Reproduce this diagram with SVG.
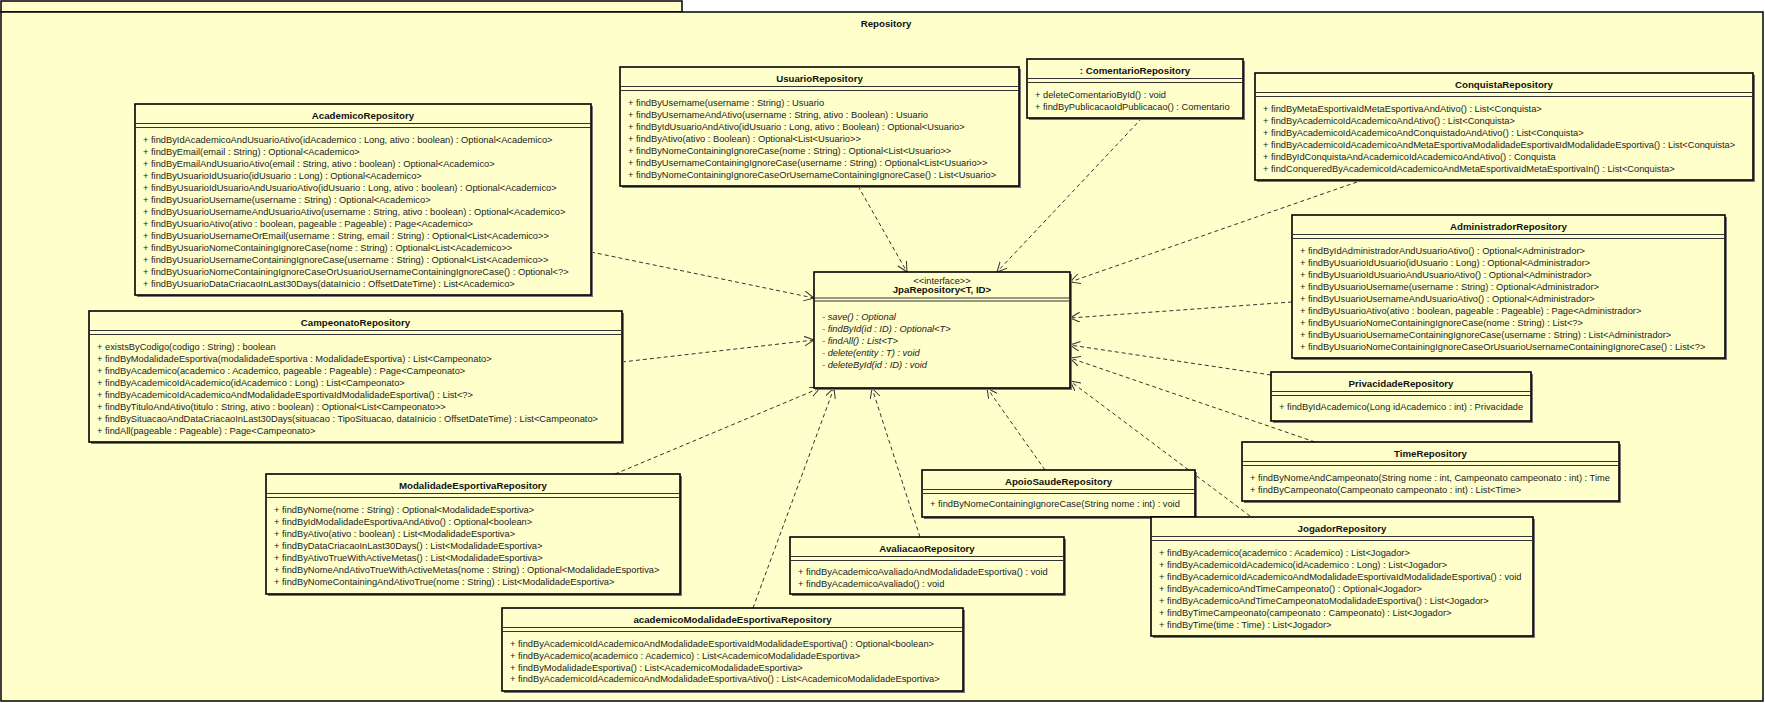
<svg xmlns="http://www.w3.org/2000/svg" width="1765" height="703" viewBox="0 0 1765 703">
<style>
.pkg{fill:#FFFFCC;stroke:#000;stroke-width:1.5}
.box{fill:#FFFFCC;stroke:#000;stroke-width:1.6}
.sh{fill:#777}
.sep{stroke:#333;stroke-width:1}
.t{font-family:"Liberation Sans",Arial,sans-serif;font-size:9.7px;font-weight:bold;fill:#111;text-anchor:middle}
.o{font-family:"Liberation Sans",Arial,sans-serif;font-size:9.3px;fill:#222}
.it{font-style:italic}
.c{text-anchor:middle}
.dep{fill:none;stroke:#333;stroke-width:1;stroke-dasharray:4 3;marker-end:url(#arr)}
</style>
<defs>
<marker id="arr" markerWidth="12" markerHeight="12" refX="10" refY="5" orient="auto" markerUnits="userSpaceOnUse">
<path d="M0,0 L10,5 L0,10" fill="none" stroke="#333" stroke-width="1"/>
</marker>
</defs>
<rect width="1765" height="703" fill="#fff"/>
<g id="package">
<rect class="pkg" x="1" y="1" width="681" height="11"/>
<rect class="pkg" x="1" y="12" width="1762" height="689"/>
<text class="t" x="886" y="27">Repository</text>
</g>
<g id="connectors">
<line class="dep" x1="591" y1="252" x2="814" y2="298"/>
<line class="dep" x1="858" y1="186" x2="907" y2="272"/>
<line class="dep" x1="1142" y1="118" x2="997" y2="272"/>
<line class="dep" x1="1357" y1="182" x2="1070" y2="282"/>
<line class="dep" x1="1292" y1="302" x2="1070" y2="318"/>
<line class="dep" x1="1271" y1="375" x2="1070" y2="345"/>
<line class="dep" x1="1315" y1="442" x2="1070" y2="358"/>
<line class="dep" x1="1250" y1="516" x2="1070" y2="381"/>
<line class="dep" x1="1045" y1="470" x2="987" y2="388"/>
<line class="dep" x1="920" y1="537" x2="872" y2="388"/>
<line class="dep" x1="753" y1="608" x2="834" y2="388"/>
<line class="dep" x1="615" y1="474" x2="820" y2="388"/>
<line class="dep" x1="622" y1="362" x2="814" y2="340"/>
</g>
<g id="JpaRepository" transform="translate(814,272)">
<rect class="sh" x="2" y="2" width="256" height="116"/>
<rect class="box" width="256" height="116"/>
<text class="o c" x="128" y="11.5">&lt;&lt;interface&gt;&gt;</text>
<text class="t" x="128" y="21">JpaRepository&lt;T, ID&gt;</text>
<line class="sep" x1="0" y1="26" x2="256" y2="26"/><line class="sep" x1="0" y1="29" x2="256" y2="29"/>
<text class="o it" x="8" y="48">- save() : Optional</text>
<text class="o it" x="8" y="60">- findById(id : ID) : Optional&lt;T&gt;</text>
<text class="o it" x="8" y="72">- findAll() : List&lt;T&gt;</text>
<text class="o it" x="8" y="84">- delete(entity : T) : void</text>
<text class="o it" x="8" y="96">- deleteById(id : ID) : void</text>
</g>
<g id="AcademicoRepository" transform="translate(135,104)">
<rect class="sh" x="2" y="2" width="456" height="191"/>
<rect class="box" width="456" height="191"/>
<text class="t" x="228" y="14.5">AcademicoRepository</text>
<line class="sep" x1="0" y1="19.5" x2="456" y2="19.5"/><line class="sep" x1="0" y1="23.5" x2="456" y2="23.5"/>
<text class="o" x="8" y="39.4">+ findByIdAcademicoAndUsuarioAtivo(idAcademico : Long, ativo : boolean) : Optional&lt;Academico&gt;</text>
<text class="o" x="8" y="51.4">+ findByEmail(email : String) : Optional&lt;Academico&gt;</text>
<text class="o" x="8" y="63.4">+ findByEmailAndUsuarioAtivo(email : String, ativo : boolean) : Optional&lt;Academico&gt;</text>
<text class="o" x="8" y="75.4">+ findByUsuarioIdUsuario(idUsuario : Long) : Optional&lt;Academico&gt;</text>
<text class="o" x="8" y="87.4">+ findByUsuarioIdUsuarioAndUsuarioAtivo(idUsuario : Long, ativo : boolean) : Optional&lt;Academico&gt;</text>
<text class="o" x="8" y="99.4">+ findByUsuarioUsername(username : String) : Optional&lt;Academico&gt;</text>
<text class="o" x="8" y="111.4">+ findByUsuarioUsernameAndUsuarioAtivo(username : String, ativo : boolean) : Optional&lt;Academico&gt;</text>
<text class="o" x="8" y="123.4">+ findByUsuarioAtivo(ativo : boolean, pageable : Pageable) : Page&lt;Academico&gt;</text>
<text class="o" x="8" y="135.4">+ findByUsuarioUsernameOrEmail(username : String, email : String) : Optional&lt;List&lt;Academico&gt;&gt;</text>
<text class="o" x="8" y="147.4">+ findByUsuarioNomeContainingIgnoreCase(nome : String) : Optional&lt;List&lt;Academico&gt;&gt;</text>
<text class="o" x="8" y="159.4">+ findByUsuarioUsernameContainingIgnoreCase(username : String) : Optional&lt;List&lt;Academico&gt;&gt;</text>
<text class="o" x="8" y="171.4">+ findByUsuarioNomeContainingIgnoreCaseOrUsuarioUsernameContainingIgnoreCase() : Optional&lt;?&gt;</text>
<text class="o" x="8" y="183.4">+ findByUsuarioDataCriacaoInLast30Days(dataInicio : OffsetDateTime) : List&lt;Academico&gt;</text>
</g>
<g id="UsuarioRepository" transform="translate(620,67)">
<rect class="sh" x="2" y="2" width="399" height="119"/>
<rect class="box" width="399" height="119"/>
<text class="t" x="199.5" y="14.5">UsuarioRepository</text>
<line class="sep" x1="0" y1="19.5" x2="399" y2="19.5"/><line class="sep" x1="0" y1="23.5" x2="399" y2="23.5"/>
<text class="o" x="8" y="39.4">+ findByUsername(username : String) : Usuario</text>
<text class="o" x="8" y="51.4">+ findByUsernameAndAtivo(username : String, ativo : Boolean) : Usuario</text>
<text class="o" x="8" y="63.4">+ findByIdUsuarioAndAtivo(idUsuario : Long, ativo : Boolean) : Optional&lt;Usuario&gt;</text>
<text class="o" x="8" y="75.4">+ findByAtivo(ativo : Boolean) : Optional&lt;List&lt;Usuario&gt;&gt;</text>
<text class="o" x="8" y="87.4">+ findByNomeContainingIgnoreCase(nome : String) : Optional&lt;List&lt;Usuario&gt;&gt;</text>
<text class="o" x="8" y="99.4">+ findByUsernameContainingIgnoreCase(username : String) : Optional&lt;List&lt;Usuario&gt;&gt;</text>
<text class="o" x="8" y="111.4">+ findByNomeContainingIgnoreCaseOrUsernameContainingIgnoreCase() : List&lt;Usuario&gt;</text>
</g>
<g id="ComentarioRepository" transform="translate(1027,59)">
<rect class="sh" x="2" y="2" width="216" height="59"/>
<rect class="box" width="216" height="59"/>
<text class="t" x="108" y="14.5">: ComentarioRepository</text>
<line class="sep" x1="0" y1="19.5" x2="216" y2="19.5"/><line class="sep" x1="0" y1="23.5" x2="216" y2="23.5"/>
<text class="o" x="8" y="39.4">+ deleteComentarioById() : void</text>
<text class="o" x="8" y="51.4">+ findByPublicacaoIdPublicacao() : Comentario</text>
</g>
<g id="ConquistaRepository" transform="translate(1255,73)">
<rect class="sh" x="2" y="2" width="498" height="107"/>
<rect class="box" width="498" height="107"/>
<text class="t" x="249" y="14.5">ConquistaRepository</text>
<line class="sep" x1="0" y1="19.5" x2="498" y2="19.5"/><line class="sep" x1="0" y1="23.5" x2="498" y2="23.5"/>
<text class="o" x="8" y="39.4">+ findByMetaEsportivaIdMetaEsportivaAndAtivo() : List&lt;Conquista&gt;</text>
<text class="o" x="8" y="51.4">+ findByAcademicoIdAcademicoAndAtivo() : List&lt;Conquista&gt;</text>
<text class="o" x="8" y="63.4">+ findByAcademicoIdAcademicoAndConquistadoAndAtivo() : List&lt;Conquista&gt;</text>
<text class="o" x="8" y="75.4">+ findByAcademicoIdAcademicoAndMetaEsportivaModalidadeEsportivaIdModalidadeEsportiva() : List&lt;Conquista&gt;</text>
<text class="o" x="8" y="87.4">+ findByIdConquistaAndAcademicoIdAcademicoAndAtivo() : Conquista</text>
<text class="o" x="8" y="99.4">+ findConqueredByAcademicoIdAcademicoAndMetaEsportivaIdMetaEsportivaIn() : List&lt;Conquista&gt;</text>
</g>
<g id="AdministradorRepository" transform="translate(1292,215)">
<rect class="sh" x="2" y="2" width="433" height="143"/>
<rect class="box" width="433" height="143"/>
<text class="t" x="216.5" y="14.5">AdministradorRepository</text>
<line class="sep" x1="0" y1="19.5" x2="433" y2="19.5"/><line class="sep" x1="0" y1="23.5" x2="433" y2="23.5"/>
<text class="o" x="8" y="39.4">+ findByIdAdministradorAndUsuarioAtivo() : Optional&lt;Administrador&gt;</text>
<text class="o" x="8" y="51.4">+ findByUsuarioIdUsuario(idUsuario : Long) : Optional&lt;Administrador&gt;</text>
<text class="o" x="8" y="63.4">+ findByUsuarioIdUsuarioAndUsuarioAtivo() : Optional&lt;Administrador&gt;</text>
<text class="o" x="8" y="75.4">+ findByUsuarioUsername(username : String) : Optional&lt;Administrador&gt;</text>
<text class="o" x="8" y="87.4">+ findByUsuarioUsernameAndUsuarioAtivo() : Optional&lt;Administrador&gt;</text>
<text class="o" x="8" y="99.4">+ findByUsuarioAtivo(ativo : boolean, pageable : Pageable) : Page&lt;Administrador&gt;</text>
<text class="o" x="8" y="111.4">+ findByUsuarioNomeContainingIgnoreCase(nome : String) : List&lt;?&gt;</text>
<text class="o" x="8" y="123.4">+ findByUsuarioUsernameContainingIgnoreCase(username : String) : List&lt;Administrador&gt;</text>
<text class="o" x="8" y="135.4">+ findByUsuarioNomeContainingIgnoreCaseOrUsuarioUsernameContainingIgnoreCase() : List&lt;?&gt;</text>
</g>
<g id="CampeonatoRepository" transform="translate(89,311)">
<rect class="sh" x="2" y="2" width="533" height="131"/>
<rect class="box" width="533" height="131"/>
<text class="t" x="266.5" y="14.5">CampeonatoRepository</text>
<line class="sep" x1="0" y1="19.5" x2="533" y2="19.5"/><line class="sep" x1="0" y1="23.5" x2="533" y2="23.5"/>
<text class="o" x="8" y="39.4">+ existsByCodigo(codigo : String) : boolean</text>
<text class="o" x="8" y="51.4">+ findByModalidadeEsportiva(modalidadeEsportiva : ModalidadeEsportiva) : List&lt;Campeonato&gt;</text>
<text class="o" x="8" y="63.4">+ findByAcademico(academico : Academico, pageable : Pageable) : Page&lt;Campeonato&gt;</text>
<text class="o" x="8" y="75.4">+ findByAcademicoIdAcademico(idAcademico : Long) : List&lt;Campeonato&gt;</text>
<text class="o" x="8" y="87.4">+ findByAcademicoIdAcademicoAndModalidadeEsportivaIdModalidadeEsportiva() : List&lt;?&gt;</text>
<text class="o" x="8" y="99.4">+ findByTituloAndAtivo(titulo : String, ativo : boolean) : Optional&lt;List&lt;Campeonato&gt;&gt;</text>
<text class="o" x="8" y="111.4">+ findBySituacaoAndDataCriacaoInLast30Days(situacao : TipoSituacao, dataInicio : OffsetDateTime) : List&lt;Campeonato&gt;</text>
<text class="o" x="8" y="123.4">+ findAll(pageable : Pageable) : Page&lt;Campeonato&gt;</text>
</g>
<g id="PrivacidadeRepository" transform="translate(1271,372)">
<rect class="sh" x="2" y="2" width="260" height="49"/>
<rect class="box" width="260" height="49"/>
<text class="t" x="130" y="14.5">PrivacidadeRepository</text>
<line class="sep" x1="0" y1="19.5" x2="260" y2="19.5"/><line class="sep" x1="0" y1="23.5" x2="260" y2="23.5"/>
<text class="o" x="8" y="38.4">+ findByIdAcademico(Long idAcademico : int) : Privacidade</text>
</g>
<g id="TimeRepository" transform="translate(1242,442)">
<rect class="sh" x="2" y="2" width="377" height="59"/>
<rect class="box" width="377" height="59"/>
<text class="t" x="188.5" y="14.5">TimeRepository</text>
<line class="sep" x1="0" y1="19.5" x2="377" y2="19.5"/><line class="sep" x1="0" y1="23.5" x2="377" y2="23.5"/>
<text class="o" x="8" y="39.4">+ findByNomeAndCampeonato(String nome : int, Campeonato campeonato : int) : Time</text>
<text class="o" x="8" y="51.4">+ findByCampeonato(Campeonato campeonato : int) : List&lt;Time&gt;</text>
</g>
<g id="ModalidadeEsportivaRepository" transform="translate(266,474)">
<rect class="sh" x="2" y="2" width="414" height="120"/>
<rect class="box" width="414" height="120"/>
<text class="t" x="207" y="14.5">ModalidadeEsportivaRepository</text>
<line class="sep" x1="0" y1="19.5" x2="414" y2="19.5"/><line class="sep" x1="0" y1="23.5" x2="414" y2="23.5"/>
<text class="o" x="8" y="39.4">+ findByNome(nome : String) : Optional&lt;ModalidadeEsportiva&gt;</text>
<text class="o" x="8" y="51.4">+ findByIdModalidadeEsportivaAndAtivo() : Optional&lt;boolean&gt;</text>
<text class="o" x="8" y="63.4">+ findByAtivo(ativo : boolean) : List&lt;ModalidadeEsportiva&gt;</text>
<text class="o" x="8" y="75.4">+ findByDataCriacaoInLast30Days() : List&lt;ModalidadeEsportiva&gt;</text>
<text class="o" x="8" y="87.4">+ findByAtivoTrueWithActiveMetas() : List&lt;ModalidadeEsportiva&gt;</text>
<text class="o" x="8" y="99.4">+ findByNomeAndAtivoTrueWithActiveMetas(nome : String) : Optional&lt;ModalidadeEsportiva&gt;</text>
<text class="o" x="8" y="111.4">+ findByNomeContainingAndAtivoTrue(nome : String) : List&lt;ModalidadeEsportiva&gt;</text>
</g>
<g id="ApoioSaudeRepository" transform="translate(922,470)">
<rect class="sh" x="2" y="2" width="273" height="47"/>
<rect class="box" width="273" height="47"/>
<text class="t" x="136.5" y="14.5">ApoioSaudeRepository</text>
<line class="sep" x1="0" y1="19.5" x2="273" y2="19.5"/><line class="sep" x1="0" y1="23.5" x2="273" y2="23.5"/>
<text class="o" x="8" y="37.4">+ findByNomeContainingIgnoreCase(String nome : int) : void</text>
</g>
<g id="AvaliacaoRepository" transform="translate(790,537)">
<rect class="sh" x="2" y="2" width="274" height="57"/>
<rect class="box" width="274" height="57"/>
<text class="t" x="137" y="14.5">AvaliacaoRepository</text>
<line class="sep" x1="0" y1="19.5" x2="274" y2="19.5"/><line class="sep" x1="0" y1="23.5" x2="274" y2="23.5"/>
<text class="o" x="8" y="38.4">+ findByAcademicoAvaliadoAndModalidadeEsportiva() : void</text>
<text class="o" x="8" y="50.4">+ findByAcademicoAvaliado() : void</text>
</g>
<g id="JogadorRepository" transform="translate(1151,517)">
<rect class="sh" x="2" y="2" width="382" height="119"/>
<rect class="box" width="382" height="119"/>
<text class="t" x="191" y="14.5">JogadorRepository</text>
<line class="sep" x1="0" y1="19.5" x2="382" y2="19.5"/><line class="sep" x1="0" y1="23.5" x2="382" y2="23.5"/>
<text class="o" x="8" y="39.4">+ findByAcademico(academico : Academico) : List&lt;Jogador&gt;</text>
<text class="o" x="8" y="51.4">+ findByAcademicoIdAcademico(idAcademico : Long) : List&lt;Jogador&gt;</text>
<text class="o" x="8" y="63.4">+ findByAcademicoIdAcademicoAndModalidadeEsportivaIdModalidadeEsportiva() : void</text>
<text class="o" x="8" y="75.4">+ findByAcademicoAndTimeCampeonato() : Optional&lt;Jogador&gt;</text>
<text class="o" x="8" y="87.4">+ findByAcademicoAndTimeCampeonatoModalidadeEsportiva() : List&lt;Jogador&gt;</text>
<text class="o" x="8" y="99.4">+ findByTimeCampeonato(campeonato : Campeonato) : List&lt;Jogador&gt;</text>
<text class="o" x="8" y="111.4">+ findByTime(time : Time) : List&lt;Jogador&gt;</text>
</g>
<g id="academicoModalidadeEsportivaRepository" transform="translate(502,608)">
<rect class="sh" x="2" y="2" width="461" height="83"/>
<rect class="box" width="461" height="83"/>
<text class="t" x="230.5" y="14.5">academicoModalidadeEsportivaRepository</text>
<line class="sep" x1="0" y1="19.5" x2="461" y2="19.5"/><line class="sep" x1="0" y1="23.5" x2="461" y2="23.5"/>
<text class="o" x="8" y="39.4">+ findByAcademicoIdAcademicoAndModalidadeEsportivaIdModalidadeEsportiva() : Optional&lt;boolean&gt;</text>
<text class="o" x="8" y="51">+ findByAcademico(academico : Academico) : List&lt;AcademicoModalidadeEsportiva&gt;</text>
<text class="o" x="8" y="62.6">+ findByModalidadeEsportiva() : List&lt;AcademicoModalidadeEsportiva&gt;</text>
<text class="o" x="8" y="74.2">+ findByAcademicoIdAcademicoAndModalidadeEsportivaAtivo() : List&lt;AcademicoModalidadeEsportiva&gt;</text>
</g>
</svg>
